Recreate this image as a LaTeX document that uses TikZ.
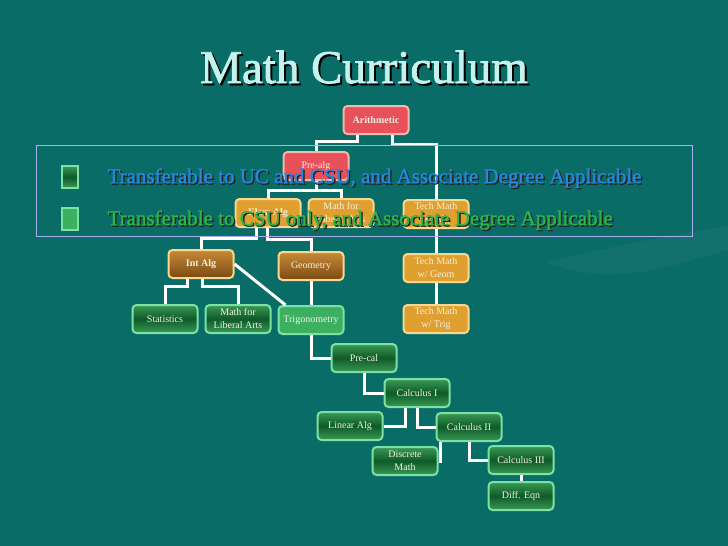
\documentclass[tikz,border=0pt]{standalone}
\usepackage{fontspec}
\setmainfont{Liberation Serif}
\newfontfamily\titlefont[FakeBold=1.6]{Liberation Serif}
\newfontfamily\keyfont[FakeBold=1.2]{Liberation Serif}
\definecolor{slidebg}{HTML}{0A6C67}
\definecolor{boxred}{HTML}{E8505A}
\definecolor{rimred}{HTML}{F2B8A8}
\definecolor{boxorange}{HTML}{E0A030}
\definecolor{rimorange}{HTML}{F6D890}
\definecolor{browntop}{HTML}{C88A38}
\definecolor{brownbot}{HTML}{7A4A12}
\definecolor{greenrim}{HTML}{7CE2A4}
\definecolor{greenedge}{HTML}{3A9A55}
\definecolor{greenmid}{HTML}{0E5A28}
\definecolor{greenlight}{HTML}{3CB060}
\definecolor{boxtext}{HTML}{F4F0E0}
\definecolor{titlecyan}{HTML}{C4F2EE}
\definecolor{keyblue}{HTML}{2A86DC}
\definecolor{keygreen}{HTML}{2EB448}
\definecolor{keyrim}{HTML}{A8B0F0}
\begin{document}
\begin{tikzpicture}[x=1pt,y=-1pt,
  course/.style={rounded corners=4pt, line width=2pt, minimum width=65pt, minimum height=28pt,
    inner sep=1pt, align=center, text=boxtext, font=\fontsize{10}{13}\selectfont},
  redbox/.style={course, fill=boxred, draw=rimred},
  orangebox/.style={course, fill=boxorange, draw=rimorange},
  brownbox/.style={course, top color=browntop, bottom color=brownbot, draw=rimorange},
  darkgreen/.style={course, top color=greenedge, bottom color=greenedge, middle color=greenmid, draw=greenrim},
  lightgreen/.style={course, fill=greenlight, draw=greenrim},
  link/.style={white, line width=3pt},
  keytext/.style={anchor=west, font=\keyfont\fontsize{21}{21}\selectfont}]
\useasboundingbox (0,0) rectangle (728,546);
\fill[slidebg] (0,0) rectangle (728,546);
\fill[white, opacity=0.035] (545,262) .. controls (600,250) and (660,236) .. (728,226) -- (728,250) .. controls (680,262) and (620,290) .. (545,262);
\node [text=black] at (366,69) {\titlefont\fontsize{47}{47}\selectfont Math Curriculum};
\node [text=titlecyan] (title) at (364,67) {\titlefont\fontsize{47}{47}\selectfont Math Curriculum};
\node [redbox, font=\bfseries\fontsize{10}{13}\selectfont] (arith) at (376,120) {Arithmetic};
\node [redbox] (prealg) at (316,166) {Pre-alg};
\node [orangebox, font=\bfseries\fontsize{10}{13}\selectfont] (elemalg) at (268,213) {Elem Alg};
\node [orangebox] (mathfor) at (341,213) {Math for\\Liberal Arts};
\node [orangebox] (techalg) at (436,214) {Tech Math\\w/ Alg};
\node [brownbox, font=\bfseries\fontsize{10}{13}\selectfont] (intalg) at (201,264) {Int Alg};
\node [brownbox] (geom) at (311,266) {Geometry};
\node [orangebox] (techgeom) at (436,268) {Tech Math\\w/ Geom};
\node [darkgreen] (stats) at (165,319) {Statistics};
\node [darkgreen] (mathla) at (238,319) {Math for\\Liberal Arts};
\node [lightgreen] (trig) at (311,320) {Trigonometry};
\node [orangebox] (techtrig) at (436,319) {Tech Math\\w/ Trig};
\node [darkgreen] (precal) at (364,358) {Pre-cal};
\node [darkgreen] (calcI) at (417,393) {Calculus I};
\node [darkgreen] (linalg) at (350,426) {Linear Alg};
\node [darkgreen] (calcII) at (469,427) {Calculus II};
\node [darkgreen] (discrete) at (405,461) {Discrete\\Math};
\node [darkgreen] (calcIII) at (521,460) {Calculus III};
\node [darkgreen] (diffeq) at (521,496) {Diff. Eqn};
\draw [link] ([xshift=-19pt]arith.south) |- ([yshift=10pt]prealg.north) -- (prealg.north);
\draw [link] ([xshift=16pt]arith.south) |- ([yshift=55pt]techalg.north) -- (techalg.north);
\draw [link] (techalg.south) -- (techgeom.north);
\draw [link] (techgeom.south) -- (techtrig.north);
\draw [link] (prealg.south) -- ([yshift=-9pt]prealg.south);
\draw [link] (elemalg.north) |- ([yshift=-9pt]prealg.south) -| (mathfor.north);
\draw [link] ([xshift=-12pt]elemalg.south) |- ([yshift=11pt]intalg.north) -- (intalg.north);
\draw [link] ([xshift=-1pt]elemalg.south) |- ([yshift=12pt]geom.north) -- (geom.north);
\draw [link] ([xshift=-14pt]intalg.south) |- ([yshift=18pt]stats.north) -- (stats.north);
\draw [link] ([xshift=1pt]intalg.south) |- ([yshift=18pt]mathla.north) -- (mathla.north);
\draw [link] (intalg.east) -- ([xshift=8pt]trig.north west);
\draw [link] (geom.south) -- (trig.north);
\draw [link] (trig.south) |- (precal.west);
\draw [link] (precal.south) |- (calcI.west);
\draw [link] ([xshift=-12pt]calcI.south) |- (linalg.east);
\draw [link] (calcI.south) |- (calcII.west);
\draw [link] ([xshift=-29pt]calcII.south) |- (discrete.east);
\draw [link] (calcII.south) |- (calcIII.west);
\draw [link] (calcIII.south) -- (diffeq.north);
\draw [keyrim, line width=1pt] (36,145) rectangle (692,236);
\node [darkgreen, rounded corners=0pt, line width=1.2pt, minimum width=16pt, minimum height=22pt] (keyuc) at (70,177) {};
\node [lightgreen, rounded corners=0pt, line width=1.2pt, minimum width=16pt, minimum height=22pt] (keycsu) at (70,219) {};
\node [keytext, text=black!85] at (105.5,179.5) {Transferable to UC and CSU, and Associate Degree Applicable};
\node [keytext, text=keyblue] (ucline) at (104,178) {Transferable to UC and CSU, and Associate Degree Applicable};
\node [keytext, text=black!85] at (105.5,221.5) {Transferable to CSU only, and Associate Degree Applicable};
\node [keytext, text=keygreen] (csuline) at (104,220) {Transferable to CSU only, and Associate Degree Applicable};
\end{tikzpicture}
\end{document}
